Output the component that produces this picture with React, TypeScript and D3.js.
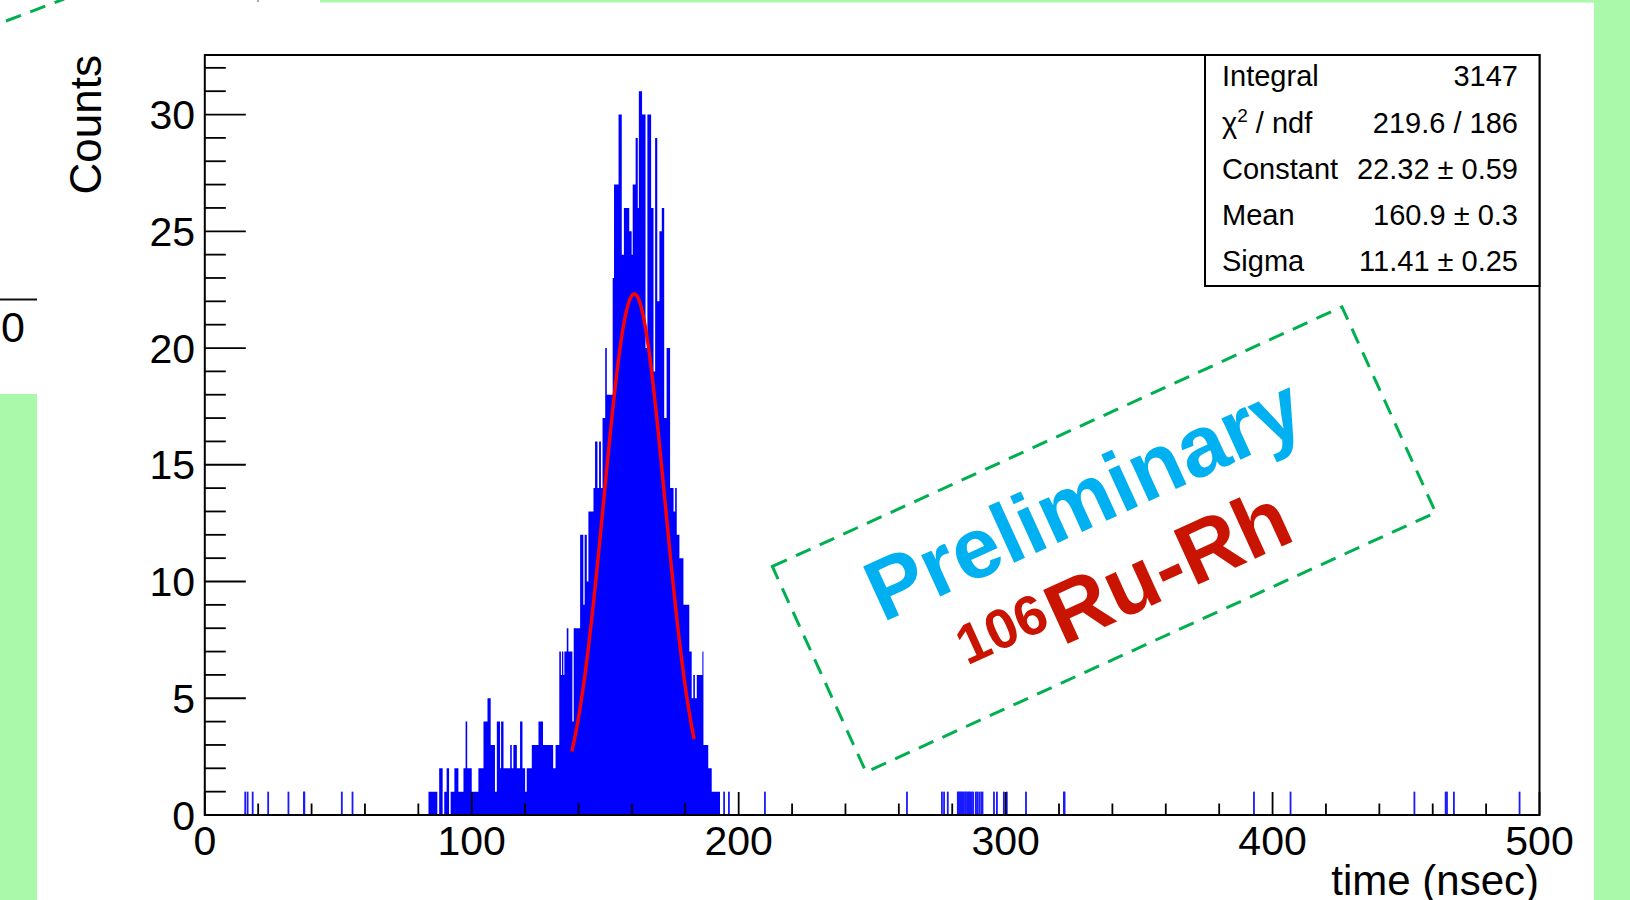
import React from 'react';
import * as d3 from 'd3';

const W = 1630;
const H = 900;

// Histogram body, read as steps: [time start, time end, counts]
const peakSteps: [number, number, number][] = [
  [83.8, 87.1, 1], [87.1, 87.8, 0], [87.8, 89.1, 2], [89.1, 89.7, 0], [89.7, 90.6, 1],
  [90.6, 91.5, 2], [91.5, 92.1, 0], [92.1, 93.5, 1], [93.5, 95.0, 2], [95.0, 96.9, 1],
  [96.9, 97.7, 2], [97.7, 98.3, 4], [98.3, 100.0, 2], [100.0, 102.5, 1], [102.5, 104.4, 2],
  [104.4, 105.9, 4], [105.9, 107.1, 5], [107.1, 108.7, 3], [108.7, 109.4, 1], [109.4, 110.6, 4],
  [110.6, 111.0, 2], [111.0, 111.9, 4], [111.9, 114.4, 2], [114.4, 115.0, 3], [115.0, 115.6, 2],
  [115.6, 116.9, 3], [116.9, 118.1, 2], [118.1, 119.0, 4], [119.0, 120.0, 2], [120.0, 120.6, 1],
  [120.6, 122.5, 2], [122.5, 125.0, 3], [125.0, 126.7, 4], [126.7, 130.5, 3], [130.5, 131.4, 2],
  [131.4, 132.8, 3], [132.8, 133.4, 7], [133.4, 133.8, 6], [133.8, 134.3, 7], [134.3, 134.7, 6],
  [134.7, 135.6, 7], [135.6, 136.2, 8], [136.2, 137.7, 7], [137.7, 138.2, 4], [138.2, 140.6, 8],
  [140.6, 141.8, 12], [141.8, 142.3, 9], [142.3, 143.1, 12], [143.1, 143.7, 10], [143.7, 145.6, 13],
  [145.6, 146.2, 14], [146.2, 147.1, 16], [147.1, 147.7, 14], [147.7, 148.4, 16], [148.4, 149.0, 14],
  [149.0, 150.0, 17], [150.0, 150.6, 20], [150.6, 152.8, 18], [152.8, 153.3, 23], [153.3, 155.0, 27],
  [155.0, 156.2, 30], [156.2, 157.0, 24], [157.0, 159.0, 26], [159.0, 159.9, 25], [159.9, 160.3, 24],
  [160.3, 161.4, 27], [161.4, 162.2, 29], [162.2, 162.6, 26], [162.6, 163.8, 31], [163.8, 165.1, 30],
  [165.1, 165.8, 20], [165.8, 167.2, 30], [167.2, 168.1, 26], [168.1, 168.7, 19], [168.7, 169.5, 29],
  [169.5, 170.3, 22], [170.3, 171.2, 25], [171.2, 172.1, 26], [172.1, 173.0, 17], [173.0, 174.3, 20],
  [174.3, 175.6, 14], [175.6, 176.2, 13], [176.2, 176.8, 14], [176.8, 177.8, 12], [177.8, 179.3, 11],
  [179.3, 181.5, 9], [181.5, 182.4, 7], [182.4, 183.0, 5], [183.0, 183.6, 6], [183.6, 184.3, 5],
  [184.3, 186.4, 6], [186.4, 186.8, 7], [186.8, 188.6, 3], [188.6, 189.9, 2], [189.9, 193.0, 1],
];

// Isolated single-count bins (time of bin low edge)
const isolatedHits: number[] = [
  14.8, 15.7, 17.6, 23.4, 31.0, 36.8, 36.95, 51.0, 55.0,
  194.2, 196.0, 209.5,
  262.7, 275.8, 276.6, 278.0,
  281.75, 282.0, 282.5, 282.75, 283.25, 283.5, 284.0, 284.5, 284.75, 285.25,
  285.75, 286.0, 286.5, 287.0, 287.5, 288.5, 289.0, 289.75, 290.5, 291.0,
  295.3, 296.4, 299.0, 300.1, 307.3, 321.5, 321.75,
  392.7, 406.4, 452.8, 464.5, 465.0, 467.6, 492.2,
];
const hitBinWidth = 0.25;

// Gaussian fit (from stats box)
const fitConstant = 22.32;
const fitMean = 160.9;
const fitSigma = 11.41;
const fitRange: [number, number] = [137.5, 183.3];

const yMajor = [0, 5, 10, 15, 20, 25, 30];
const xMajor = [0, 100, 200, 300, 400, 500];

const statLabels = ['Integral', 'chi', 'Constant', 'Mean', 'Sigma'];
const statValues = ['3147', '219.6 / 186', '22.32 \u00b1 0.59', '160.9 \u00b1 0.3', '11.41 \u00b1 0.25'];

const FONT = "'Liberation Sans', Arial, Helvetica, sans-serif";
const GREEN_BG = '#aaf9aa';
const DASH_GREEN = '#00b050';

export default function App() {
  const x = d3.scaleLinear().domain([0, 500]).range([204.8, 1539.5]);
  const y = d3.scaleLinear().domain([0, 32.55]).range([815, 55]);

  const yMinor = d3.range(0, 33, 1);
  const xMinor = d3.range(0, 501, 20);

  // step outline of the histogram body
  const stepPts: [number, number][] = peakSteps.map(([t0, , c]) => [t0, c] as [number, number]);
  stepPts.push([peakSteps[peakSteps.length - 1][1], 0]);
  const bodyArea = d3
    .area<[number, number]>()
    .x((d) => x(d[0]))
    .y0(y(0))
    .y1((d) => y(d[1]))
    .curve(d3.curveStepAfter);

  const fitPts = d3.range(0, 101).map((i) => {
    const t = fitRange[0] + ((fitRange[1] - fitRange[0]) * i) / 100;
    return [t, fitConstant * Math.exp(-0.5 * Math.pow((t - fitMean) / fitSigma, 2))] as [number, number];
  });
  const fitLine = d3.line<[number, number]>().x((d) => x(d[0])).y((d) => y(d[1]));

  const rowCenter = (i: number) => 76 + 46.2 * i;

  return (
    <div style={{ position: 'fixed', left: 0, top: 0, width: W, height: H }}>
      <svg width={W} height={H} viewBox={`0 0 ${W} ${H}`} style={{ display: 'block', background: '#fff' }}>
        {/* slide background fragments */}
        <rect x={0} y={394} width={37} height={H - 394} fill={GREEN_BG} />
        <rect x={320} y={0} width={W - 320} height={2.5} fill={GREEN_BG} />
        <rect x={1594} y={0} width={W - 1594} height={H} fill={GREEN_BG} />
        <line x1={0} y1={299.5} x2={37} y2={299.5} stroke="#111" strokeWidth={1.8} />
        <text x={1} y={342} fontFamily={FONT} fontSize={43} textAnchor="start" fill="#000">0</text>
        <line x1={6} y1={21} x2={64} y2={-1} stroke={DASH_GREEN} strokeWidth={3} strokeDasharray="16 10" />
        <line x1={258} y1={0} x2={258} y2={2} stroke="#555" strokeWidth={1} />

        {/* histogram body */}
        <path d={bodyArea(stepPts) || ''} fill="#0000ff" stroke="none" />
        {isolatedHits.map((t, i) => {
          const w = Math.max(1.8, x(t + hitBinWidth) - x(t));
          return <rect key={'h' + i} x={x(t)} y={y(1)} width={w} height={y(0) - y(1)} fill="#1a1aff" />;
        })}

        {/* fit */}
        <path d={fitLine(fitPts) || ''} fill="none" stroke="#ff0000" strokeWidth={3.4} />

        {/* frame */}
        <rect x={x(0)} y={y(32.55)} width={x(500) - x(0)} height={y(0) - y(32.55)} fill="none" stroke="#000" strokeWidth={2} />

        {/* y ticks */}
        {yMinor.map((v) => (
          <line key={'ym' + v} x1={x(0)} x2={x(0) + (v % 5 === 0 ? 41 : 21)} y1={y(v)} y2={y(v)} stroke="#000" strokeWidth={1.8} />
        ))}
        {yMajor.map((v) => (
          <text key={'yl' + v} x={195} y={y(v) + 14.5} fontFamily={FONT} fontSize={41} textAnchor="end" fill="#000">{v}</text>
        ))}

        {/* x ticks */}
        {xMinor.map((v) => (
          <line key={'xm' + v} x1={x(v)} x2={x(v)} y1={y(0)} y2={y(0) - (v % 100 === 0 ? 23 : 11.5)} stroke="#000" strokeWidth={1.8} />
        ))}
        {xMajor.map((v) => (
          <text key={'xl' + v} x={x(v)} y={855} fontFamily={FONT} fontSize={41} textAnchor="middle" fill="#000">{v}</text>
        ))}

        {/* axis titles */}
        <text transform="translate(101,55) rotate(-90)" fontFamily={FONT} fontSize={44} textAnchor="end" fill="#000">Counts</text>
        <text x={1539} y={895} fontFamily={FONT} fontSize={42} textAnchor="end" fill="#000">time (nsec)</text>

        {/* stats box */}
        <rect x={1205} y={55} width={1539.5 - 1205} height={231} fill="#fff" stroke="#000" strokeWidth={2} />
        {statLabels.map((lab, i) => (
          <text key={'sl' + i} x={1222} y={rowCenter(i) + 10.4} fontFamily={FONT} fontSize={29} fill="#000">
            {lab === 'chi' ? (
              <>
                <tspan>{'\u03c7'}</tspan>
                <tspan dy={-11} fontSize={19}>2</tspan>
                <tspan dy={11}>{' / ndf'}</tspan>
              </>
            ) : (
              lab
            )}
          </text>
        ))}
        {statValues.map((val, i) => (
          <text key={'sv' + i} x={1518} y={rowCenter(i) + 10.4} fontFamily={FONT} fontSize={29} textAnchor="end" fill="#000">{val}</text>
        ))}

        {/* preliminary stamp */}
        <g transform="translate(1104,539.5) rotate(-24.5)">
          <rect x={-313} y={-113} width={626} height={226} fill="none" stroke={DASH_GREEN} strokeWidth={3} strokeDasharray="16 10" />
          <text x={-236} y={-16} fontFamily={FONT} fontWeight="bold" fontSize={86} fill="#00b0f0">Preliminary</text>
          <text x={-177} y={58} fontFamily={FONT} fontWeight="bold" fontSize={56} fill="#c81400">106</text>
          <text x={-82} y={80} fontFamily={FONT} fontWeight="bold" fontSize={86} fill="#c81400">Ru-Rh</text>
        </g>
      </svg>
    </div>
  );
}
